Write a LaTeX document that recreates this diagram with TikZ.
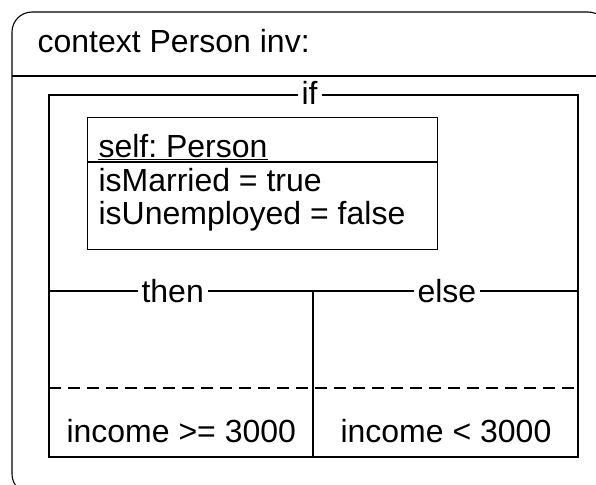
\documentclass[tikz,border=0pt]{standalone}
\usepackage{fontspec}
\setmainfont{Liberation Sans}
\frenchspacing
\begin{document}
\begin{tikzpicture}[x=1pt,y=-1pt,line width=1.1pt,
  txt/.style={font=\fontsize{32}{37}\selectfont,inner sep=0pt,anchor=base west},
  gaplabel/.style={txt,fill=white,inner xsep=4pt},
  guard/.style={dash pattern=on 12pt off 7pt}]
\useasboundingbox (0,0) rectangle (596,484);
% outer constraint frame, running past the page edges on the right and bottom
\begin{scope}
  \clip (0,0) rectangle (596,484);
  \draw[rounded corners=20pt] (12,12) rectangle (608,494);
\end{scope}
\draw (12,76) -- (596,76);
\node[txt] (ctx) at (37,53) {context Person inv:};

% if / then / else block
\draw (49,95) rectangle (578,457);
\draw (49,291) -- (578,291);
\draw (313,291) -- (313,457);
\draw[guard] (49,388) -- (578,388);
\node[gaplabel] (iflbl) at (297,105) {if};
\node[gaplabel] (thenlbl) at (137,302) {then};
\node[gaplabel] (elselbl) at (413,302) {else};

% object in the condition
\node[draw,minimum width=350pt,minimum height=132pt,anchor=north west,inner sep=0pt] (obj) at (87,117) {};
\draw (obj.west |- 0,162) -- (obj.east |- 0,162);
\node[txt] (self) at (98,157) {self: Person};
\draw ([yshift=-2.5pt]self.base west) -- ([yshift=-2.5pt]self.base east);
\node[txt] (married) at (98,191) {isMarried = true};
\node[txt] (unemp) at (98,224) {isUnemployed = false};

% results of the two branches
\node[txt] (incgeq) at (66,442) {income >= 3000};
\node[txt] (inclt) at (340,442) {income < 3000};
\end{tikzpicture}
\end{document}
